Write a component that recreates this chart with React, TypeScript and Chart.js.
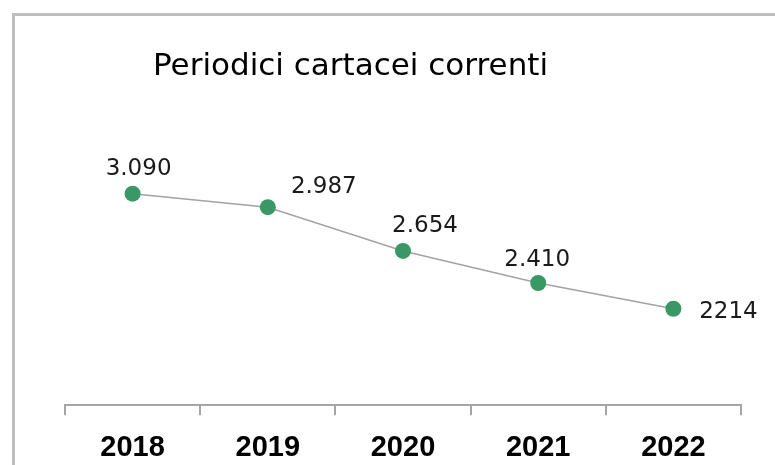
import React, { useEffect, useRef } from "react";
import { Chart, registerables } from "chart.js";

Chart.register(...registerables);

const TITLE = "Periodici cartacei correnti";
const YEARS = ["2018", "2019", "2020", "2021", "2022"];
const VALUES = [3090, 2987, 2654, 2410, 2214];
const VALUE_LABELS = ["3.090", "2.987", "2.654", "2.410", "2214"];
// label centre offsets from each point (style only)
const LABEL_OFFSETS: [number, number][] = [
  [6, -25],
  [56, -20],
  [22, -25],
  [-1, -23],
  [55, 3],
];

const GREEN = "#3a9866";

const decorPlugin = {
  id: "decor",
  beforeDraw(chart: any) {
    const ctx = chart.ctx;
    ctx.save();
    ctx.fillStyle = "#ffffff";
    ctx.fillRect(0, 0, chart.width, chart.height);
    ctx.strokeStyle = "#bfbfbf";
    ctx.lineWidth = 3;
    ctx.strokeRect(13.5, 14.5, 900, 600);
    ctx.fillStyle = "#000000";
    ctx.font = "31px 'DejaVu Sans'";
    ctx.textAlign = "left";
    ctx.textBaseline = "alphabetic";
    ctx.fillText(TITLE, 153, 75);
    ctx.restore();
  },
  afterDatasetsDraw(chart: any) {
    const ctx = chart.ctx;
    const meta = chart.getDatasetMeta(0);
    ctx.save();
    ctx.fillStyle = "#1a1a1a";
    ctx.font = "23px 'DejaVu Sans'";
    ctx.textAlign = "center";
    ctx.textBaseline = "middle";
    meta.data.forEach((pt: any, i: number) => {
      const [dx, dy] = LABEL_OFFSETS[i];
      ctx.fillText(VALUE_LABELS[i], pt.x + dx, pt.y + dy);
    });
    ctx.restore();
  },
};

export default function App() {
  const ref = useRef<HTMLCanvasElement | null>(null);
  useEffect(() => {
    document.body.style.margin = "0";
    if (!ref.current) return;
    const chart = new Chart(ref.current, {
      type: "line",
      data: {
        labels: YEARS,
        datasets: [
          {
            data: VALUES,
            borderColor: "#a3a3a3",
            borderWidth: 1.6,
            pointRadius: 8,
            pointBackgroundColor: GREEN,
            pointBorderColor: GREEN,
            pointBorderWidth: 0,
            tension: 0,
          },
        ],
      },
      options: {
        animation: false,
        responsive: false,
        maintainAspectRatio: false,
        layout: { padding: { left: 65, right: 34, top: 100, bottom: -15 } },
        plugins: {
          legend: { display: false },
          tooltip: { enabled: false },
          title: { display: false },
        },
        scales: {
          x: {
            type: "category",
            offset: true,
            grid: {
              offset: true,
              drawOnChartArea: false,
              drawTicks: true,
              tickLength: 10,
              color: "#a6a6a6",
              lineWidth: 2,
            },
            border: { display: true, color: "#a6a6a6", width: 2 },
            ticks: {
              color: "#000000",
              padding: 15,
              font: { family: "'Liberation Sans'", size: 29, weight: "bold" },
            },
          },
          y: {
            display: false,
            min: 1480,
            max: 3803,
          },
        },
      },
      plugins: [decorPlugin],
    });
    return () => chart.destroy();
  }, []);
  return <canvas ref={ref} width={775} height={465} style={{ display: "block" }} />;
}
